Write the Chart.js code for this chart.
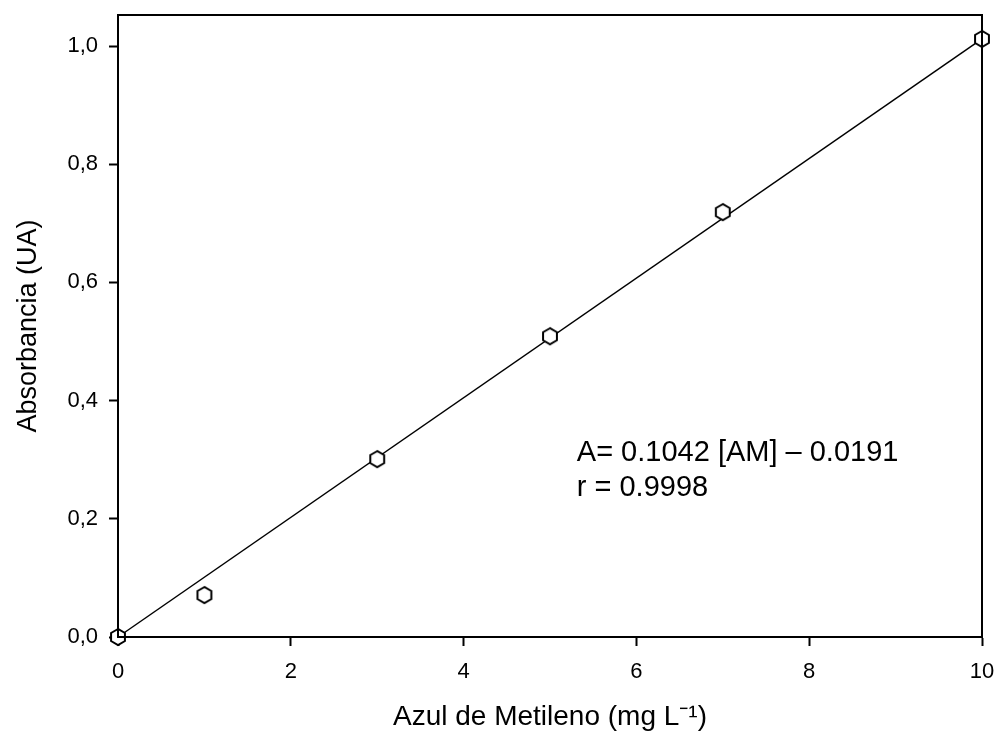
<!DOCTYPE html>
<html>
<head>
<meta charset="utf-8">
<script src="https://cdn.jsdelivr.net/npm/chart.js@4/dist/chart.umd.min.js"></script>
<style>
  html, body { margin: 0; padding: 0; background: #fff; }
  #grafico { display: block; }
</style>
</head>
<body>
<canvas id="grafico" width="1000" height="736"></canvas>
<script>
// Datos
const concentracion = [0, 1, 3, 5, 7, 10];
const absorbancia = [0.0, 0.071, 0.301, 0.509, 0.719, 1.012];
// recta de ajuste (extremos)
const rectaX = [0, 10];
const rectaY = [0.0, 1.012];
const ecuacion = ['A= 0.1042 [AM] \u2013 0.0191', 'r = 0.9998'];

// Marcador hexagonal (blanco con borde negro)
function hexagono(r) {
  const c = document.createElement('canvas');
  const s = Math.ceil(r * 2 + 4);
  c.width = s; c.height = s;
  const g = c.getContext('2d');
  g.beginPath();
  for (let i = 0; i < 6; i++) {
    const a = Math.PI / 2 + i * Math.PI / 3;
    const px = s / 2 + r * Math.cos(a), py = s / 2 - r * Math.sin(a);
    if (i === 0) g.moveTo(px, py); else g.lineTo(px, py);
  }
  g.closePath();
  g.fillStyle = '#fff';
  g.fill();
  g.lineWidth = 2;
  g.strokeStyle = '#000';
  g.stroke();
  return c;
}

// Marco superior/derecho y texto de la ecuación
const marco = {
  id: 'marco',
  afterDatasetsDraw(chart) {
    const { ctx, chartArea: a, scales } = chart;
    ctx.save();
    ctx.strokeStyle = '#000';
    ctx.lineWidth = 2;
    ctx.strokeRect(a.left, a.top, a.right - a.left, a.bottom - a.top);
    ctx.fillStyle = '#000';
    ctx.font = '29px "Liberation Sans", Arial, sans-serif';
    ctx.textBaseline = 'middle';
    const x0 = scales.x.getPixelForValue(5.31);
    ctx.fillText(ecuacion[0], x0, scales.y.getPixelForValue(0.312));
    ctx.fillText(ecuacion[1], x0, scales.y.getPixelForValue(0.252));
    ctx.restore();
  }
};

const fuenteTicks = { family: '"Liberation Sans", Arial, sans-serif', size: 22 };
const fuenteTituloX = { family: '"Liberation Sans", Arial, sans-serif', size: 28 };
const fuenteTituloY = { family: '"Liberation Sans", Arial, sans-serif', size: 27 };

new Chart(document.getElementById('grafico'), {
  type: 'scatter',
  data: {
    datasets: [
      {
        label: 'Puntos',
        data: concentracion.map((x, i) => ({ x: x, y: absorbancia[i] })),
        pointStyle: hexagono(8),
        pointRadius: 8,
        showLine: false,
        clip: false,
        order: 1
      },
      {
        label: 'Ajuste',
        data: rectaX.map((x, i) => ({ x: x, y: rectaY[i] })),
        showLine: true,
        borderColor: '#000',
        borderWidth: 1.5,
        pointRadius: 0,
        clip: false,
        order: 2
      }
    ]
  },
  options: {
    responsive: false,
    animation: false,
    layout: { padding: { top: 15, right: 18, left: 0, bottom: 0 } },
    plugins: { legend: { display: false }, tooltip: { enabled: false } },
    scales: {
      x: {
        type: 'linear',
        min: 0,
        max: 10,
        afterFit(s) { s.height = 99; s.paddingLeft = 0; s.paddingRight = 0; },
        grid: { drawOnChartArea: false, drawTicks: true, tickLength: 9, color: '#000', tickWidth: 2 },
        border: { color: '#000', width: 2 },
        ticks: { stepSize: 2, color: '#000', font: fuenteTicks, padding: 13, maxRotation: 0 },
        title: {
          display: true,
          text: 'Azul de Metileno (mg L\u207B\u00B9)',
          color: '#000',
          font: fuenteTituloX,
          padding: { bottom: 2 }
        }
      },
      y: {
        type: 'linear',
        min: 0,
        max: 1.0525,
        afterFit(s) { s.width = 118; s.paddingTop = 0; s.paddingBottom = 0; },
        grid: { drawOnChartArea: false, drawTicks: true, tickLength: 9, color: '#000', tickWidth: 2 },
        border: { color: '#000', width: 2 },
        ticks: {
          stepSize: 0.2,
          includeBounds: false,
          color: '#000',
          font: fuenteTicks,
          padding: 11,
          callback: (v) => v.toFixed(1).replace('.', ',')
        },
        title: {
          display: true,
          text: 'Absorbancia (UA)',
          color: '#000',
          font: fuenteTituloY,
          padding: { top: 12 }
        }
      }
    }
  },
  plugins: [marco]
});
</script>
</body>
</html>
